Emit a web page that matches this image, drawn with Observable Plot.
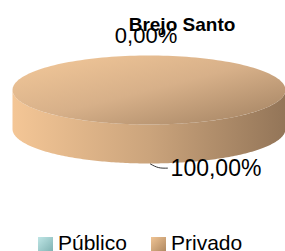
<!DOCTYPE html>
<html>
<head>
<meta charset="utf-8">
<script src="https://cdn.jsdelivr.net/npm/d3@7"></script>
<script src="https://cdn.jsdelivr.net/npm/@observablehq/plot@0.6"></script>
<style>
  html, body { margin: 0; padding: 0; background: #fff; overflow: hidden; }
  #legend { position: relative; height: 23px; font: 21px "Liberation Sans", Arial, sans-serif; color: #000; }
  #legend .sw { position: absolute; top: 9px; width: 15px; height: 15px; }
  #legend .lb { position: absolute; top: 4px; line-height: 21px; white-space: nowrap; }
</style>
</head>
<body>
<div id="chart"></div>
<div id="legend"></div>
<script>
// ---- data ----
const title = "Brejo Santo";
const categories = ["Público", "Privado"];
const values = [0, 100];              // percent
const valueLabels = ["0,00%", "100,00%"];
const colors = ["#a4d4d4", "#d4ad84"];

// ---- pie geometry (unit circle, viewed at a tilt) ----
const tilt = 0.2527, depth = 0.2857;
const total = d3.sum(values);
let acc = 0;
const slices = categories.map((c, i) => {
  const a0 = acc / total * 2 * Math.PI;
  acc += values[i];
  const a1 = acc / total * 2 * Math.PI;
  return {category: c, value: values[i], label: valueLabels[i], a0, a1, mid: (a0 + a1) / 2, i};
});
const px = a => Math.sin(a), py = a => -Math.cos(a) * tilt;

const topPts = [], sidePts = [];
for (const s of slices) {
  if (s.a1 - s.a0 <= 0) continue;
  const n = 180;
  if (s.a1 - s.a0 < 2 * Math.PI - 1e-9) topPts.push({x: 0, y: 0, k: s.category});
  for (let j = 0; j <= n; j++) {
    const a = s.a0 + (s.a1 - s.a0) * j / n;
    topPts.push({x: px(a), y: py(a), k: s.category});
  }
  // front wall: angles in [pi/2, 3pi/2]
  const f0 = Math.max(s.a0, Math.PI / 2), f1 = Math.min(s.a1, 3 * Math.PI / 2);
  if (f1 > f0) {
    const arc = d3.range(n + 1).map(j => f0 + (f1 - f0) * j / n);
    for (const a of arc) sidePts.push({x: px(a), y: py(a), k: s.category});
    for (const a of arc.slice().reverse()) sidePts.push({x: px(a), y: py(a) + depth, k: s.category});
  }
}

// label anchors from slice mid-angles (outer edge, top or bottom of cylinder)
const anchors = slices.map(s => {
  const front = Math.cos(s.mid) < 0;
  return {...s, x: px(s.mid), y: py(s.mid) + (front ? depth : 0)};
});
const pub = anchors[0], priv = anchors[1];
const leader = [
  {x: priv.x + 0.011, y: priv.y + 0.004},
  {x: priv.x + 0.07,  y: priv.y + 0.030},
  {x: priv.x + 0.135, y: priv.y + 0.034}
];

const W = 285, H = 228;
const plot = Plot.plot({
  width: W, height: H, margin: 0,
  x: {domain: [-1, 1], range: [12, 285], axis: null},
  y: {domain: [-0.6557, 1.0147], range: [0, H], axis: null},
  style: {fontFamily: "'Liberation Sans', Arial, sans-serif", background: "white", overflow: "visible"},
  marks: [
    Plot.line(sidePts, {x: "x", y: "y", z: "k", fill: "url(#gSide)", stroke: "none"}),
    Plot.line(topPts, {x: "x", y: "y", z: "k", fill: "url(#gTop)", stroke: "none"}),
    Plot.line(leader, {x: "x", y: "y", curve: "natural", stroke: "#000", strokeWidth: 0.8}),
    Plot.text([title], {frameAnchor: "top", dx: 39, dy: 17, lineAnchor: "top", fontWeight: "bold", fontSize: 19, fill: "#000"}),
    Plot.text([pub], {x: "x", y: "y", text: "label", dx: -3, dy: -19.5, fontSize: 22, fill: "#000"}),
    Plot.text([priv], {x: "x", y: "y", text: "label", dx: 67, dy: 5, fontSize: 23, fill: "#000"})
  ]
});

// gradients
const ns = "http://www.w3.org/2000/svg";
const defs = document.createElementNS(ns, "defs");
defs.innerHTML = `
  <linearGradient id="gTop" x1="0" y1="0" x2="1" y2="1">
    <stop offset="0" stop-color="#f4c99a"/>
    <stop offset="0.5" stop-color="#d7b089"/>
    <stop offset="1" stop-color="#a08060"/>
  </linearGradient>
  <linearGradient id="gSide" x1="0" y1="0" x2="1" y2="0">
    <stop offset="0" stop-color="#f4c696"/>
    <stop offset="0.5" stop-color="#cba47c"/>
    <stop offset="1" stop-color="#937558"/>
  </linearGradient>`;
plot.insertBefore(defs, plot.firstChild);
document.getElementById("chart").appendChild(plot);

// legend
const leg = document.getElementById("legend");
const swGrad = ["linear-gradient(135deg,#bfe6e6,#7fb2b2)", "linear-gradient(135deg,#f0c494,#ae8760)"];
const swLeft = [38, 151];
categories.forEach((c, i) => {
  const sw = document.createElement("span");
  sw.className = "sw"; sw.style.left = swLeft[i] + "px"; sw.style.background = swGrad[i];
  const lb = document.createElement("span");
  lb.className = "lb"; lb.style.left = (swLeft[i] + 20) + "px"; lb.textContent = c;
  leg.appendChild(sw); leg.appendChild(lb);
});
</script>
</body>
</html>
